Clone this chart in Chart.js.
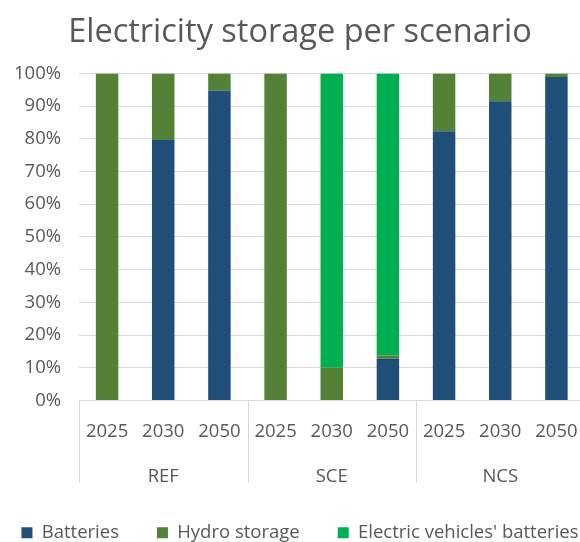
<!DOCTYPE html>
<html>
<head>
<meta charset="utf-8">
<script src="https://cdn.jsdelivr.net/npm/chart.js@4"></script>
<style>
  html, body { margin: 0; padding: 0; background: #fff; overflow: hidden; }
  #wrap { width: 660px; height: 552px; margin-left: -30px; }
</style>
</head>
<body>
<div id="wrap"><canvas id="storageChart"></canvas></div>
<script>
'use strict';

// データ
var yearLabels = ['2025', '2030', '2050', '2025', '2030', '2050', '2025', '2030', '2050'];
var scenarioLabels = ['REF', 'SCE', 'NCS'];
var batteries = [0, 79.6, 94.8, 0, 0, 12.8, 82.3, 91.5, 98.9];
var hydroStorage = [100, 20.4, 5.2, 100, 10.0, 0.9, 17.7, 8.5, 1.1];
var evBatteries = [0, 0, 0, 0, 90.0, 86.3, 0, 0, 0];
var yTicks = [0, 10, 20, 30, 40, 50, 60, 70, 80, 90, 100];

var textColor = '#595959';
var gridColor = '#d9d9d9';
var fontFamily = "'Open Sans', sans-serif";

//シナリオごとの区切り線
var groupDividers = {
  id: 'groupDividers',
  afterDraw: function(chart) {
    var x2 = chart.scales.x2;
    var c = chart.ctx;
    var n = scenarioLabels.length;
    c.save();
    c.strokeStyle = gridColor;
    c.lineWidth = 1;
    for (var j = 0; j <= n; j++) {
      var px = Math.round(x2.left + j * x2.width / n) + 0.5;
      c.beginPath();
      c.moveTo(px, chart.chartArea.bottom);
      c.lineTo(px, x2.bottom - 3);
      c.stroke();
    }
    c.restore();
  }
};

var ctx = document.getElementById('storageChart');
var myChart = new Chart(ctx, {
  type: 'bar',
  data: {
    labels: yearLabels,
    datasets: [{
      label: 'Batteries',
      data: batteries,
      backgroundColor: '#1f4e79'
    }, {
      label: 'Hydro storage',
      data: hydroStorage,
      backgroundColor: '#538135'
    }, {
      label: "Electric vehicles' batteries",
      data: evBatteries,
      backgroundColor: '#00b050'
    }]
  },
  plugins: [groupDividers],
  options: {
    responsive: true,
    maintainAspectRatio: false,
    animation: false,
    datasets: {
      bar: {
        categoryPercentage: 1,
        barPercentage: 0.4
      }
    },
    layout: {
      padding: 0
    },
    plugins: {
      title: {
        display: true,
        text: 'Electricity storage per scenario',
        color: textColor,
        font: { family: fontFamily, size: 32.5, weight: 'normal' },
        padding: { top: 13.4, bottom: 21 }
      },
      legend: {
        position: 'bottom',
        labels: {
          boxWidth: 11,
          boxHeight: 11,
          padding: 38,
          color: textColor,
          font: { family: fontFamily, size: 18.5 }
        }
      },
      tooltip: { enabled: false }
    },
    scales: {
      x: {
        stacked: true,
        weight: 0,
        grid: { display: false, drawTicks: false },
        border: { display: false },
        ticks: {
          padding: 20.5,
          maxRotation: 0,
          autoSkip: false,
          color: textColor,
          font: { family: fontFamily, size: 18.5 }
        },
        afterFit: function(axis) {
          axis.height = 40.2;
        }
      },
      x2: {
        type: 'category',
        labels: scenarioLabels,
        position: 'bottom',
        weight: 1,
        offset: true,
        grid: { display: false, drawTicks: false },
        border: { display: false },
        ticks: {
          padding: 24.7,
          color: textColor,
          font: { family: fontFamily, size: 18.5 }
        },
        afterFit: function(axis) {
          axis.height = 44.9;
        }
      },
      y: {
        stacked: true,
        min: 0,
        max: 100,
        afterBuildTicks: function(axis) {
          axis.ticks = yTicks.map(function(v) { return { value: v }; });
        },
        afterFit: function(axis) {
          axis.width = 109;
        },
        grid: {
          color: gridColor,
          lineWidth: 1,
          drawTicks: false
        },
        border: { display: false },
        ticks: {
          padding: 18,
          color: textColor,
          font: { family: fontFamily, size: 18.5 },
          callback: function(v) { return v + '%'; }
        }
      },
      // 右側の余白用
      yRight: {
        type: 'linear',
        position: 'right',
        display: true,
        grid: { display: false, drawTicks: false },
        border: { display: false },
        ticks: { display: false },
        afterFit: function(axis) {
          axis.width = 45.5;
        }
      }
    }
  }
});
</script>
</body>
</html>
